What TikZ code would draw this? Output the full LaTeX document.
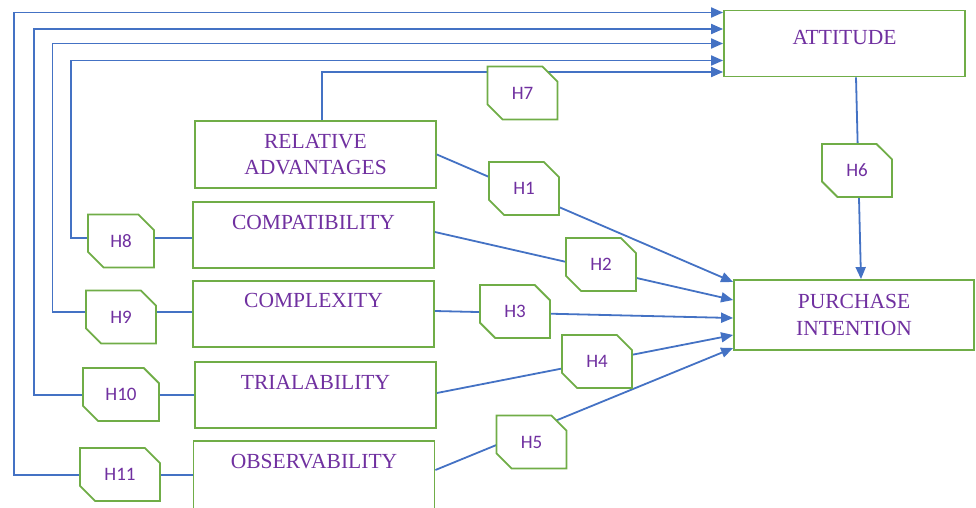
\documentclass[tikz,border=0pt]{standalone}
\usepackage{fontspec}
\setmainfont{Liberation Serif}
\newfontfamily\hypfont{Carlito}
\usetikzlibrary{arrows.meta, shapes.misc}
\definecolor{boxgreen}{HTML}{70AD47}
\definecolor{textpurple}{HTML}{7030A0}
\definecolor{lineblue}{HTML}{4472C4}

\begin{document}
\begin{tikzpicture}[x=1pt, y=-1pt,
        concept/.style={draw=boxgreen, line width=1.8pt, fill=white, inner sep=0pt,
            minimum width=241pt, minimum height=66pt, align=center, text=textpurple,
            font=\fontsize{21.5}{26.5}\selectfont},
        hyp/.style={chamfered rectangle, chamfered rectangle corners={north east, south west},
            chamfered rectangle xsep=9pt, chamfered rectangle ysep=9pt,
            draw=boxgreen, line width=1.8pt, fill=white, inner sep=0pt,
            minimum width=70pt, minimum height=53pt, text=textpurple,
            font=\hypfont\fontsize{19}{22}\selectfont},
        link/.style={draw=lineblue, line width=1.8pt},
        arrow/.style={link, -{Triangle[length=12pt, width=10pt]}}]

        \useasboundingbox (0,0) rectangle (976,507);

        \node[concept, text depth=13pt] (att) at (844.5,43.5) {ATTITUDE};
        \node[concept, minimum width=240pt, minimum height=70pt] (pi) at (854,315) {PURCHASE\\INTENTION};
        \node[concept, minimum height=67pt] (rel) at (315.5,154.5) {RELATIVE\\ADVANTAGES};
        \node[concept, text depth=26pt] (comp) at (313.5,235) {COMPATIBILITY};
        \node[concept, text depth=28pt] (cplx) at (313.5,314) {COMPLEXITY};
        \node[concept, text depth=26pt] (trial) at (315.5,395) {TRIALABILITY};
        \node[concept, minimum height=80pt, text depth=40pt] (obs) at (314,481) {OBSERVABILITY};

        \coordinate (rail8) at (71,0);
        \coordinate (rail9) at (52.5,0);
        \coordinate (rail10) at (34,0);
        \coordinate (rail11) at (14,0);

        \draw[arrow] (rel.east) -- ([yshift=33pt]pi.west);
        \draw[arrow] ([yshift=3pt]comp.east) -- ([yshift=15pt]pi.west);
        \draw[arrow] ([yshift=3pt]cplx.east) -- ([yshift=-3pt]pi.west);
        \draw[arrow] ([yshift=2pt]trial.east) -- ([yshift=-20pt]pi.west);
        \draw[arrow] ([yshift=11pt]obs.east) -- ([yshift=-33pt]pi.west);
        \draw[arrow] ([xshift=11.5pt]att.south) -- ([xshift=7pt]pi.north);

        \draw[arrow] ([xshift=6.5pt]rel.north) |- ([yshift=-28.5pt]att.west);
        \draw[arrow] ([yshift=-3pt]comp.west) -- ([yshift=-3pt]comp.west -| rail8) |- ([yshift=-17pt]att.west);
        \draw[arrow] ([yshift=2pt]cplx.west) -- ([yshift=2pt]cplx.west -| rail9) |- (att.west);
        \draw[arrow] (trial.west) -- (trial.west -| rail10) |- ([yshift=14.5pt]att.west);
        \draw[arrow] ([yshift=6pt]obs.west) -- ([yshift=6pt]obs.west -| rail11) |- ([yshift=31pt]att.west);

        \node[hyp] (h1) at (524,188.5) {H1};
        \node[hyp] (h2) at (601,264.5) {H2};
        \node[hyp] (h3) at (515,311.5) {H3};
        \node[hyp] (h4) at (597,361.5) {H4};
        \node[hyp] (h5) at (531.5,442) {H5};
        \node[hyp] (h6) at (857,170.5) {H6};
        \node[hyp] (h7) at (522.5,93) {H7};
        \node[hyp, minimum width=66pt] (h8) at (121,241) {H8};
        \node[hyp] (h9) at (121,317) {H9};
        \node[hyp, minimum width=76pt] (h10) at (121,394.5) {H10};
        \node[hyp, minimum width=80pt] (h11) at (120,474.5) {H11};

\end{tikzpicture}
\end{document}
